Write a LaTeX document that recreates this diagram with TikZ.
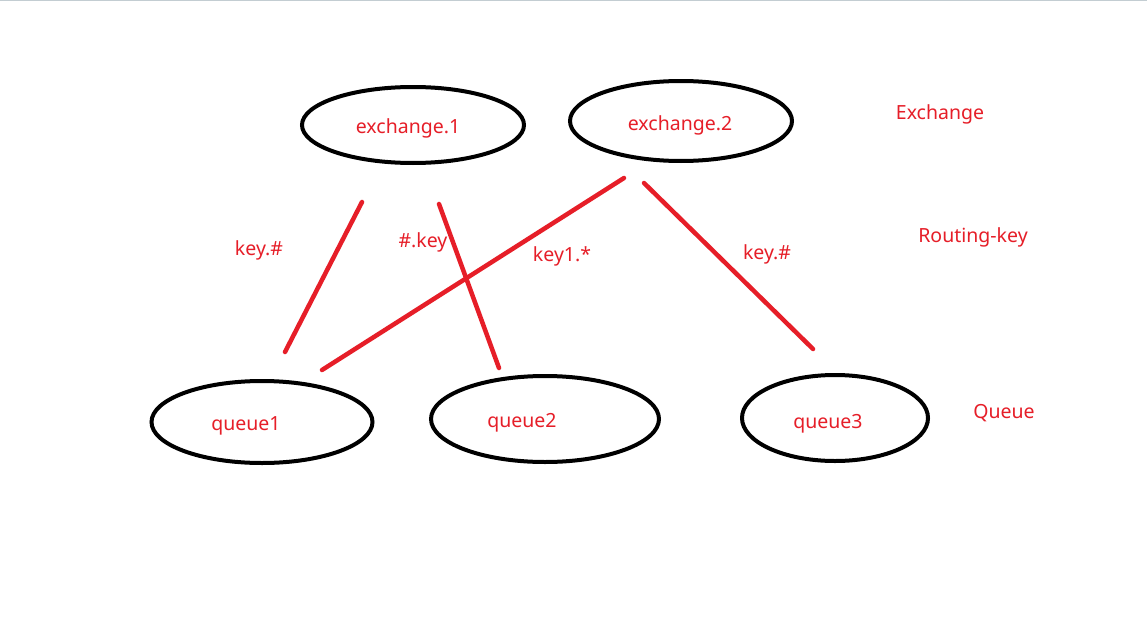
\documentclass[tikz,border=0pt]{standalone}
\usepackage{fontspec}
\setmainfont{Noto Sans}
\usetikzlibrary{shapes.geometric}
\definecolor{pred}{RGB}{230,30,40}
\definecolor{topline}{RGB}{195,205,210}
\tikzset{
  oval/.style={draw=black, line width=4pt, ellipse, inner sep=0pt},
  lbl/.style={text=pred, font=\fontsize{19.5}{22}\selectfont, inner sep=0pt},
  route/.style={draw=pred, line width=4.5pt, line cap=round}
}
\begin{document}
\begin{tikzpicture}[x=1pt,y=-1pt]
\useasboundingbox (0,0) rectangle (1147,618);
\fill[white] (0,0) rectangle (1147,618);
\draw[topline, line width=1.5pt] (0,0.75) -- (1147,0.75);

% ovals
\node[oval, minimum width=222pt, minimum height=76pt] (ex1) at (413,125) {};
\node[oval, minimum width=222pt, minimum height=80pt] (ex2) at (681,121) {};
\node[oval, minimum width=221pt, minimum height=82pt] (q1) at (262,422) {};
\node[oval, minimum width=228pt, minimum height=86pt] (q2) at (545,419) {};
\node[oval, minimum width=186pt, minimum height=86pt] (q3) at (835,418) {};

% texts
\node[lbl] (tex1) at (408,128) {exchange.1};
\node[lbl] (tex2) at (680,125) {exchange.2};
\node[lbl] (tq1) at (246,426) {queue1};
\node[lbl] (tq2) at (522,423) {queue2};
\node[lbl] (tq3) at (828,424) {queue3};
\node[lbl] (hex) at (940,114) {Exchange};
\node[lbl] (hrk) at (973,237) {Routing-key};
\node[lbl] (hq) at (1004,413) {Queue};
\node[lbl] (k1) at (259,250) {key.\#};
\node[lbl] (k2) at (423,242) {\#.key};
\node[lbl] (k3) at (562,256) {key1.*};
\node[lbl] (k4) at (767,254) {key.\#};

% line ends
\coordinate (a1) at (362,202); \coordinate (b1) at (285,352);
\coordinate (a2) at (439,204); \coordinate (b2) at (499,368);
\coordinate (a3) at (624,178); \coordinate (b3) at (322,370);
\coordinate (a4) at (644,183); \coordinate (b4) at (813,349);

\draw[route] (a1) -- (b1);
\draw[route] (a2) -- (b2);
\draw[route] (a3) -- (b3);
\draw[route] (a4) -- (b4);
\end{tikzpicture}
\end{document}
